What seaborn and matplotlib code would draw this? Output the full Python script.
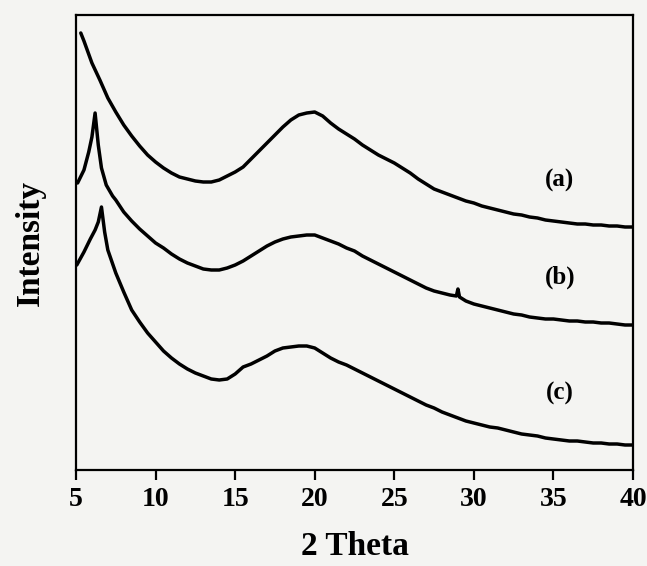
import numpy as np
import pandas as pd
import matplotlib
matplotlib.use("Agg")
import matplotlib.pyplot as plt
import seaborn as sns

# ---- data (arbitrary intensity units) ----
x_a = [5.3, 5.5, 6.0, 6.5, 7.0, 7.5, 8.0, 8.5, 9.0, 9.5, 10.0, 10.5, 11.0, 11.5, 12.0, 12.5,
       13.0, 13.5, 14.0, 14.5, 15.0, 15.5, 16.0, 16.5, 17.0, 17.5, 18.0, 18.5, 19.0, 19.5,
       20.0, 20.5, 21.0, 21.5, 22.0, 22.5, 23.0, 23.5, 24.0, 24.5, 25.0, 25.5, 26.0, 26.5,
       27.0, 27.5, 28.0, 28.5, 29.0, 29.5, 30.0, 30.5, 31.0, 31.5, 32.0, 32.5, 33.0, 33.5,
       34.0, 34.5, 35.0, 35.5, 36.0, 36.5, 37.0, 37.5, 38.0, 38.5, 39.0, 39.5, 40.0]
y_a = [437, 429, 407, 390, 372, 358, 345, 334, 324, 315, 308, 302, 297, 293, 291, 289,
       288, 288, 290, 294, 298, 303, 311, 319, 327, 335, 343, 350, 355, 357,
       358, 354, 347, 341, 336, 331, 325, 320, 315, 311, 307, 302, 297, 291,
       286, 281, 278, 275, 272, 269, 267, 264, 262, 260, 258, 256, 255, 253,
       252, 250, 249, 248, 247, 246, 246, 245, 245, 244, 244, 243, 243]

x_b = [5.1, 5.5, 5.8, 6.0, 6.2, 6.4, 6.6, 6.9, 7.3, 7.5, 8.0, 8.5, 9.0, 9.5, 10.0, 10.5,
       11.0, 11.5, 12.0, 12.5, 13.0, 13.5, 14.0, 14.5, 15.0, 15.5, 16.0, 16.5, 17.0, 17.5,
       18.0, 18.5, 19.0, 19.5, 20.0, 20.5, 21.0, 21.5, 22.0, 22.5, 23.0, 23.5, 24.0, 24.5,
       25.0, 25.5, 26.0, 26.5, 27.0, 27.5, 28.0, 28.5, 28.9, 29.0, 29.1, 29.5, 30.0, 30.5,
       31.0, 31.5, 32.0, 32.5, 33.0, 33.5, 34.0, 34.5, 35.0, 35.5, 36.0, 36.5, 37.0, 37.5,
       38.0, 38.5, 39.0, 39.5, 40.0]
y_b = [287, 300, 318, 333, 357, 325, 302, 285, 274, 270, 258, 249, 241, 234, 227, 222,
       216, 211, 207, 204, 201, 200, 200, 202, 205, 209, 214, 219, 224, 228,
       231, 233, 234, 235, 235, 232, 229, 226, 222, 219, 214, 210, 206, 202,
       198, 194, 190, 186, 182, 179, 177, 175, 174, 181, 173, 169, 166, 164,
       162, 160, 158, 156, 155, 153, 152, 151, 151, 150, 149, 149, 148, 148,
       147, 147, 146, 145, 145]

x_c = [5.05, 5.5, 5.9, 6.2, 6.4, 6.6, 6.8, 7.0, 7.5, 8.0, 8.5, 9.0, 9.5, 10.0, 10.5, 11.0,
       11.5, 12.0, 12.5, 13.0, 13.5, 14.0, 14.5, 15.0, 15.5, 16.0, 16.5, 17.0, 17.5, 18.0,
       18.5, 19.0, 19.5, 20.0, 20.5, 21.0, 21.5, 22.0, 22.5, 23.0, 23.5, 24.0, 24.5, 25.0,
       25.5, 26.0, 26.5, 27.0, 27.5, 28.0, 28.5, 29.0, 29.5, 30.0, 30.5, 31.0, 31.5, 32.0,
       32.5, 33.0, 33.5, 34.0, 34.5, 35.0, 35.5, 36.0, 36.5, 37.0, 37.5, 38.0, 38.5, 39.0,
       39.5, 40.0]
y_c = [205, 218, 231, 240, 248, 263, 238, 220, 197, 178, 160, 148, 137, 128, 119, 112,
       106, 101, 97, 94, 91, 90, 91, 96, 103, 106, 110, 114, 119, 122,
       123, 124, 124, 122, 117, 112, 108, 105, 101, 97, 93, 89, 85, 81,
       77, 73, 69, 65, 62, 58, 55, 52, 49, 47, 45, 43, 42, 40,
       38, 36, 35, 34, 32, 31, 30, 29, 29, 28, 27, 27, 26, 26,
       25, 25]

curve_labels = ["(a)", "(b)", "(c)"]
label_x = [35.4, 35.4, 35.4]
label_y = [290, 193, 77]
x_ticks = [5, 10, 15, 20, 25, 30, 35, 40]

df = pd.concat([
    pd.DataFrame({"two_theta": x_a, "intensity": y_a, "sample": "(a)"}),
    pd.DataFrame({"two_theta": x_b, "intensity": y_b, "sample": "(b)"}),
    pd.DataFrame({"two_theta": x_c, "intensity": y_c, "sample": "(c)"}),
], ignore_index=True)

sns.set_style("ticks")
plt.rcParams["font.family"] = ["Liberation Serif", "DejaVu Serif"]
plt.rcParams["font.weight"] = "bold"
plt.rcParams["text.color"] = "black"
plt.rcParams["axes.labelcolor"] = "black"
plt.rcParams["xtick.color"] = "black"
plt.rcParams["ytick.color"] = "black"

bg = "#f4f4f2"
fig = plt.figure(figsize=(6.47, 5.66), dpi=100, facecolor=bg)
ax = fig.add_axes([76 / 647, 96 / 566, 557 / 647, 455 / 566])
ax.set_facecolor(bg)

for name in curve_labels:
    sub = df[df["sample"] == name]
    sns.lineplot(data=sub, x="two_theta", y="intensity", ax=ax, color="black",
                 linewidth=2.5, estimator=None, sort=False, legend=False)

for t, lx, ly in zip(curve_labels, label_x, label_y):
    ax.text(lx, ly, t, ha="center", va="center", fontsize=18, fontweight="bold",
            color="black")

ax.set_xlim(5, 40)
ax.set_ylim(0, 455)
ax.set_xticks(x_ticks)
ax.set_xticklabels([str(t) for t in x_ticks], fontsize=20, fontweight="bold", color="black")
ax.set_yticks([])
ax.tick_params(axis="x", direction="out", length=7, width=1.6, pad=5, colors="black")
for s in ax.spines.values():
    s.set_visible(True)
    s.set_linewidth(1.6)
    s.set_color("black")

ax.set_xlabel("2 Theta", fontsize=24, fontweight="bold", labelpad=14, color="black")
ax.set_ylabel("Intensity", fontsize=24, fontweight="bold", labelpad=22, color="black")

fig.savefig("out.png", dpi=100, facecolor=bg)
